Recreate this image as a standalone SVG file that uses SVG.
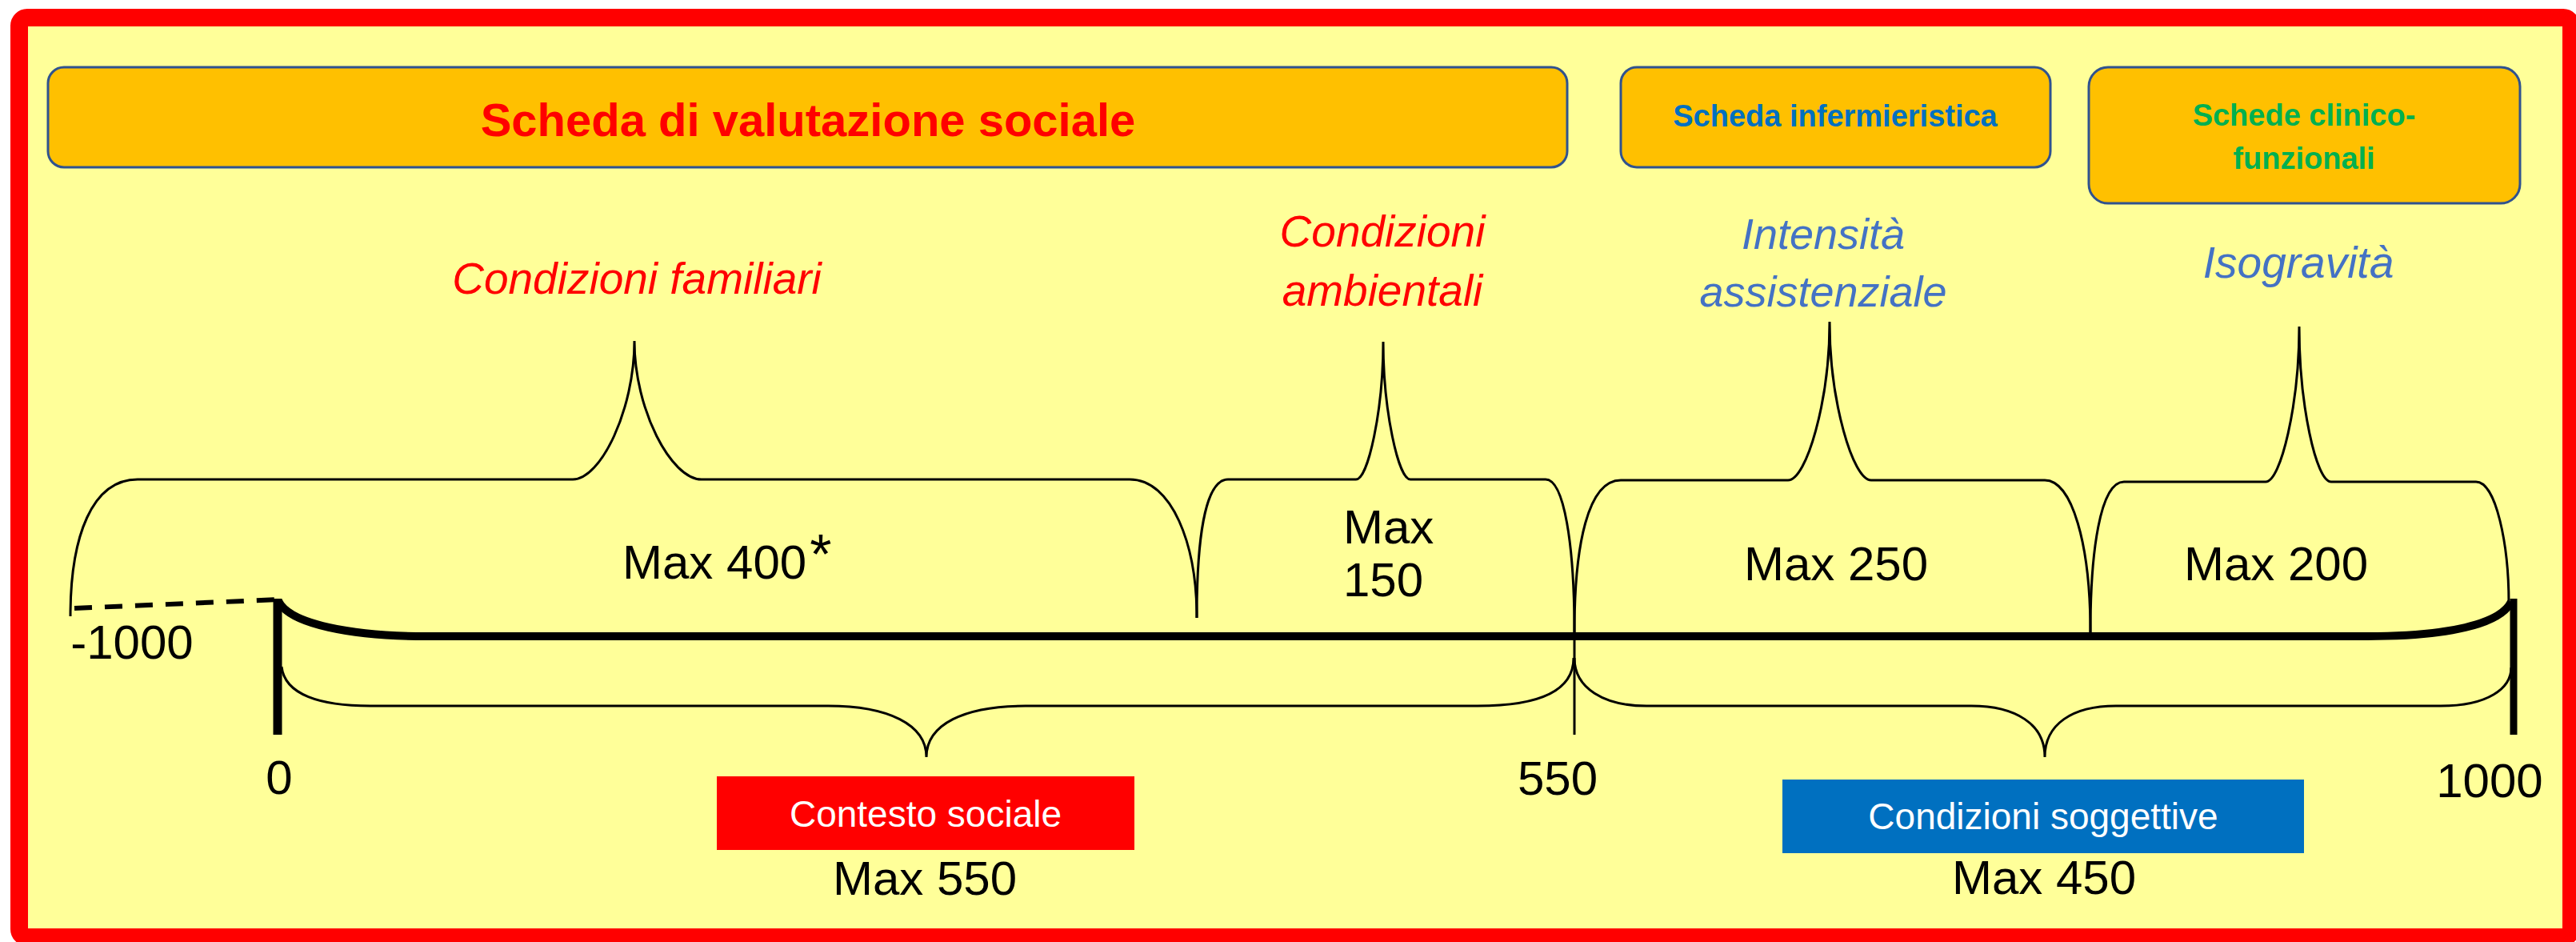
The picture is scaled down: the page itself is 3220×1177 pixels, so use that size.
<svg xmlns="http://www.w3.org/2000/svg" width="3220" height="1177" viewBox="0 0 3220 1177">
<style>
.t{font-family:"Liberation Sans",Arial,sans-serif;fill:#000;}
.c{text-anchor:middle;}
.box{fill:#FFC000;stroke:#2F528F;stroke-width:3;}
.hb{font-weight:bold;}
.it{font-style:italic;font-size:55px;}
.red{fill:#FF0000;}
.blu{fill:#4472C4;}
.num{font-size:60px;}
.br{fill:none;stroke:#000;stroke-width:3;}
.wh{fill:#FFFFFF;font-size:46px;}
</style>
<rect x="0" y="0" width="3220" height="1177" fill="#FFFFFF"/>
<rect id="frame" x="24" y="22" width="3190" height="1149" rx="10" fill="#FFFF99" stroke="#FF0000" stroke-width="22"/>

<g id="box-sociale">
<rect class="box" x="60" y="84" width="1899" height="125" rx="20"/>
<text class="t c hb red" x="1010" y="170" font-size="58">Scheda di valutazione sociale</text>
</g>
<g id="box-infermieristica">
<rect class="box" x="2026" y="84" width="537" height="125" rx="20"/>
<text class="t c hb" x="2294" y="158" font-size="38" style="fill:#0070C0">Scheda infermieristica</text>
</g>
<g id="box-clinico">
<rect class="box" x="2611" y="84" width="539" height="170" rx="24"/>
<text class="t c hb" x="2880" y="157" font-size="38" style="fill:#00B050">Schede clinico-</text>
<text class="t c hb" x="2880" y="211" font-size="38" style="fill:#00B050">funzionali</text>
</g>

<g id="label-familiari">
<text class="t c it red" x="796" y="367">Condizioni familiari</text>
</g>
<g id="label-ambientali">
<text class="t c it red" x="1728" y="308">Condizioni</text>
<text class="t c it red" x="1728" y="382">ambientali</text>
</g>
<g id="label-intensita">
<text class="t c it blu" x="2279" y="311" style="font-size:54px">Intensità</text>
<text class="t c it blu" x="2279" y="383" style="font-size:54px">assistenziale</text>
</g>
<g id="label-isogravita">
<text class="t c it blu" x="2873" y="347">Isogravità</text>
</g>

<g id="connectors">
<path class="br" d="M 88 770 C 88 670 115 599 172 599 L 716 599 C 751 599 793 512 793 426 C 793 512 839 599 877 599 L 1412 599 C 1465 599 1496 680 1496 772"/>
<path class="br" d="M 1496 772 C 1496 680 1505 599 1535 599 L 1695 599 C 1710 599 1729 513 1729 427 C 1729 513 1748 599 1763 599 L 1932 599 C 1955 599 1968 680 1968 790"/>
<path class="br" d="M 1968 790 C 1968 680 1985 600 2026 600 L 2235 600 C 2258 600 2287 501 2287 402 C 2287 501 2316 600 2339 600 L 2556 600 C 2590 600 2613 680 2613 790"/>
<path class="br" d="M 2613 790 C 2613 690 2625 602 2655 602 L 2832 602 C 2851 602 2874 505 2874 408 C 2874 505 2895 602 2914 602 L 3095 602 C 3120 602 3136 680 3136 754"/>
<path d="M 93 760 L 350 749" fill="none" stroke="#000" stroke-width="6" stroke-dasharray="22 16"/>
<path d="M 348 751 C 362 780 440 795 533 795 L 2959 795 C 3060 795 3125 780 3139 752" fill="none" stroke="#000" stroke-width="10"/>
<line x1="347" y1="748" x2="347" y2="918" stroke="#000" stroke-width="11"/>
<line x1="3142" y1="748" x2="3142" y2="918" stroke="#000" stroke-width="9"/>
<line x1="1968" y1="790" x2="1968" y2="918" stroke="#000" stroke-width="3"/>
<path class="br" d="M 352 833 C 356 868 400 882 463 882 L 1035 882 C 1110 882 1158 905 1158 946 C 1158 905 1205 882 1282 882 L 1847 882 C 1930 882 1967 860 1967 822"/>
<path class="br" d="M 1968 822 C 1968 860 2005 882 2058 882 L 2464 882 C 2520 882 2556 905 2556 946 C 2556 905 2590 882 2645 882 L 3051 882 C 3110 882 3139 860 3139 834"/>
</g>

<g id="values">
<text class="t num" x="778" y="723">Max 400<tspan font-size="70" dx="4" dy="-6">*</tspan></text>
<text class="t num" x="1679" y="679">Max</text>
<text class="t num" x="1679" y="745">150</text>
<text class="t num c" x="2295" y="725">Max 250</text>
<text class="t num c" x="2845" y="725">Max 200</text>
<text class="t num c" x="165" y="823">-1000</text>
<text class="t num c" x="349" y="992">0</text>
<text class="t num c" x="1947" y="993">550</text>
<text class="t num c" x="3112" y="996">1000</text>
</g>

<g id="box-contesto">
<rect x="896" y="970" width="522" height="92" fill="#FF0000"/>
<text class="t c wh" x="1157" y="1033">Contesto sociale</text>
<text class="t num c" x="1156" y="1118">Max 550</text>
</g>
<g id="box-soggettive">
<rect x="2228" y="974" width="652" height="92" fill="#0070C0"/>
<text class="t c wh" x="2554" y="1036">Condizioni soggettive</text>
<text class="t num c" x="2555" y="1117">Max 450</text>
</g>
</svg>
